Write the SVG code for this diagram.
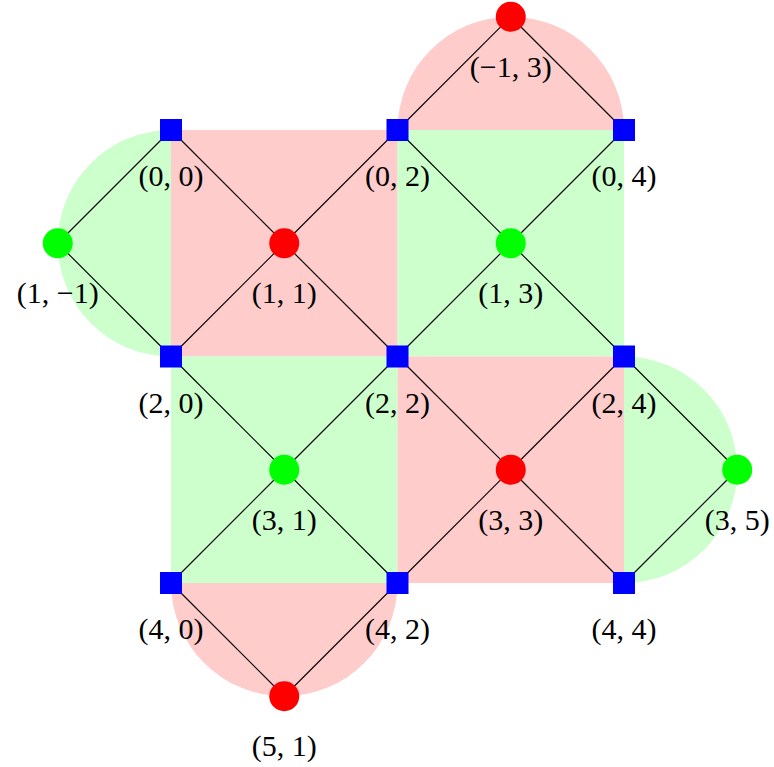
<svg xmlns="http://www.w3.org/2000/svg" width="774" height="767" viewBox="0 0 774 767">
<style>
.pk{fill:#FFCCCC}
.gn{fill:#CCFFCC}
.e line{stroke:#000;stroke-width:1.1}
.sq{fill:#0000FF}
.rc{fill:#FF0000}
.gc{fill:#00FF00}
text{font-family:"Liberation Serif","Times New Roman",serif;font-size:30px;fill:#000;text-anchor:middle}
</style>
<rect width="774" height="767" fill="#fff"/>
<g id="regions">
<rect class="pk" x="171" y="130" width="226.5" height="226.5"/>
<rect class="gn" x="397.5" y="130" width="226.5" height="226.5"/>
<rect class="gn" x="171" y="356.5" width="226.5" height="226.5"/>
<rect class="pk" x="397.5" y="356.5" width="226.5" height="226.5"/>
<path class="pk" d="M397.5,130 A113.25,113.25 0 0 1 624,130 Z"/>
<path class="gn" d="M171,130 A113.25,113.25 0 0 0 171,356.5 Z"/>
<path class="gn" d="M624,356.5 A113.25,113.25 0 0 1 624,583 Z"/>
<path class="pk" d="M171,583 A113.25,113.25 0 0 0 397.5,583 Z"/>
</g>
<g id="connectors" class="e">
<line x1="284.25" y1="243.25" x2="171" y2="130"/>
<line x1="284.25" y1="243.25" x2="397.5" y2="130"/>
<line x1="284.25" y1="243.25" x2="171" y2="356.5"/>
<line x1="284.25" y1="243.25" x2="397.5" y2="356.5"/>
<line x1="510.75" y1="243.25" x2="397.5" y2="130"/>
<line x1="510.75" y1="243.25" x2="624" y2="130"/>
<line x1="510.75" y1="243.25" x2="397.5" y2="356.5"/>
<line x1="510.75" y1="243.25" x2="624" y2="356.5"/>
<line x1="284.25" y1="469.75" x2="171" y2="356.5"/>
<line x1="284.25" y1="469.75" x2="397.5" y2="356.5"/>
<line x1="284.25" y1="469.75" x2="171" y2="583"/>
<line x1="284.25" y1="469.75" x2="397.5" y2="583"/>
<line x1="510.75" y1="469.75" x2="397.5" y2="356.5"/>
<line x1="510.75" y1="469.75" x2="624" y2="356.5"/>
<line x1="510.75" y1="469.75" x2="397.5" y2="583"/>
<line x1="510.75" y1="469.75" x2="624" y2="583"/>
<line x1="510.75" y1="16.75" x2="397.5" y2="130"/>
<line x1="510.75" y1="16.75" x2="624" y2="130"/>
<line x1="57.75" y1="243.25" x2="171" y2="130"/>
<line x1="57.75" y1="243.25" x2="171" y2="356.5"/>
<line x1="737.25" y1="469.75" x2="624" y2="356.5"/>
<line x1="737.25" y1="469.75" x2="624" y2="583"/>
<line x1="284.25" y1="696.25" x2="171" y2="583"/>
<line x1="284.25" y1="696.25" x2="397.5" y2="583"/>
</g>
<g id="n0_0"><rect class="sq" x="160" y="119" width="22" height="22"/><text x="171" y="186">(0, 0)</text></g>
<g id="n0_2"><rect class="sq" x="386.5" y="119" width="22" height="22"/><text x="397.5" y="186">(0, 2)</text></g>
<g id="n0_4"><rect class="sq" x="613" y="119" width="22" height="22"/><text x="624" y="186">(0, 4)</text></g>
<g id="n2_0"><rect class="sq" x="160" y="345.5" width="22" height="22"/><text x="171" y="412.5">(2, 0)</text></g>
<g id="n2_2"><rect class="sq" x="386.5" y="345.5" width="22" height="22"/><text x="397.5" y="412.5">(2, 2)</text></g>
<g id="n2_4"><rect class="sq" x="613" y="345.5" width="22" height="22"/><text x="624" y="412.5">(2, 4)</text></g>
<g id="n4_0"><rect class="sq" x="160" y="572" width="22" height="22"/><text x="171" y="639">(4, 0)</text></g>
<g id="n4_2"><rect class="sq" x="386.5" y="572" width="22" height="22"/><text x="397.5" y="639">(4, 2)</text></g>
<g id="n4_4"><rect class="sq" x="613" y="572" width="22" height="22"/><text x="624" y="639">(4, 4)</text></g>
<g id="n1_1"><circle class="rc" cx="284.25" cy="243.25" r="15"/><text x="284.25" y="303">(1, 1)</text></g>
<g id="n1_3"><circle class="gc" cx="510.75" cy="243.25" r="15"/><text x="510.75" y="303">(1, 3)</text></g>
<g id="n3_1"><circle class="gc" cx="284.25" cy="469.75" r="15"/><text x="284.25" y="530">(3, 1)</text></g>
<g id="n3_3"><circle class="rc" cx="510.75" cy="469.75" r="15"/><text x="510.75" y="530">(3, 3)</text></g>
<g id="nm1_3"><circle class="rc" cx="510.75" cy="16.75" r="15"/><text x="510.75" y="76.5">(−1, 3)</text></g>
<g id="n1_m1"><circle class="gc" cx="57.75" cy="243.25" r="15"/><text x="57.75" y="303">(1, −1)</text></g>
<g id="n3_5"><circle class="gc" cx="737.25" cy="469.75" r="15"/><text x="737.25" y="530">(3, 5)</text></g>
<g id="n5_1"><circle class="rc" cx="284.25" cy="696.25" r="15"/><text x="284.25" y="756">(5, 1)</text></g>
</svg>
